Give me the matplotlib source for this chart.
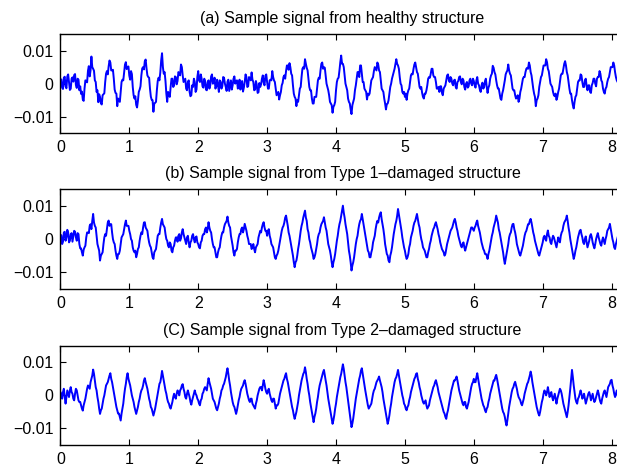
import numpy as np
import matplotlib
matplotlib.use("Agg")
import matplotlib.pyplot as plt

plt.rcParams["font.family"] = ["Liberation Sans", "DejaVu Sans"]

# samples every 0.025 s, plus the in-between readings
# (at +0.0125 s) that carry the fast ripple; units of 1e-3
dt = 0.025

healthy = [
    0.5, -1.2, 1.8, -0.8, 2.2, 0.3, -1.5, 1.9, 2.6, -0.4, 1.5, -2.0, -3.1, -4.8, -1.5, 0.8, 3.9, 2.2, 8.2, 4.5,
    1.0, -2.5, -5.6, -4.0, -6.3, -3.2, 0.5, 3.8, 5.2, 6.4, 4.0, 1.5, -2.8, -6.8, -5.0, -2.6, 1.2, 3.5, 6.5, 5.0,
    2.4, 3.8, -1.0, -4.5, -6.4, -5.2, -1.8, 2.5, 5.0, 6.8, 4.6, 2.0, -1.5, -4.9, -8.5, -5.8, -2.0, 1.8, 3.4, 9.2,
    3.0, 0.8, -5.5, -3.0, -1.0, 1.5, -0.5, 2.0, 0.8, 3.2, 5.8, 2.5, 1.0, -1.5, 0.5, -2.5, -3.5, -1.0, 0.5, -1.8,
    3.8, 0.5, 1.5, -1.2, 0.8, -2.0, 1.0, -0.5, 2.8, 0.2, -1.5, 1.2, -2.5, 0.5, -0.8, 1.8, -1.0, 0.6, -2.2, 1.0,
    -0.5, 2.2, 0.8, -1.5, 1.2, -0.6, -2.4, 0.5, 2.0, -0.8, 1.5, 3.4, 0.5, -1.8, -0.3, -2.6, -1.0, 1.5, 0.3, 2.4,
    0.5, -1.5, 1.2, 3.8, 1.0, -1.5, -3.0, -4.8, -2.5, 0.2, 2.5, 3.8, 5.5, 6.2, 3.0, -0.5, -4.0, -6.8, -5.5, -1.5,
    2.0, 5.0, 7.4, 4.8, 1.5, -2.0, -4.5, -6.0, -4.0, -1.5, 1.8, 4.0, 6.4, 5.0, 2.5, -1.0, -3.5, -6.0, -8.8, -6.5,
    -2.0, 1.5, 4.0, 8.5, 6.0, 2.5, -1.0, -4.5, -6.0, -9.2, -5.5, -2.0, 1.5, 3.5, 5.5, 3.0, 0.5, -2.0, -4.8, -3.5,
    -1.0, 1.5, 3.8, 4.5, 6.4, 4.0, 1.0, -2.0, -4.5, -7.8, -6.0, -3.0, 0.0, 2.5, 4.5, 7.4, 5.5, 2.0, -0.5, -3.0,
    -4.0, -4.9, -2.0, 0.5, 3.0, 4.5, 6.4, 3.5, 1.0, -1.5, -2.8, -4.5, -3.0, -0.5, 2.0, 3.0, 4.5, 2.0, 0.5, -1.5,
    -2.5, -0.8, -3.5, -1.0, 1.0, 2.8, 0.5, 1.5, -0.5, 1.2, -1.5, 0.8, 2.2, -0.2, 1.0, -1.8, 0.5, -0.8, 1.5, -0.5,
    0.8, -1.2, 2.0, -0.5, -2.5, 0.3, -1.0, 1.5, -2.8, -0.5, 2.5, 5.4, 3.5, 1.0, -1.5, -3.0, -4.9, -2.0, 1.0, 3.5,
    5.8, 3.0, 0.5, -2.0, -3.5, -4.2, -5.5, -2.5, 0.0, 2.0, 3.5, 4.8, 6.4, 3.5, 0.5, -3.0, -6.8, -4.5, -1.0, 2.0,
    4.0, 5.5, 7.4, 4.5, 2.0, -0.5, -2.5, -3.8, -4.9, -2.5, 0.5, 3.0, 4.5, 6.8, 3.5, 0.5, -3.0, -5.0, -7.5, -4.0,
    -1.5, 1.0, 2.8, 0.5, -1.0, 1.5, -2.0, -0.5, -2.8, 0.2, 1.5, -0.8, 2.0, 3.8, 1.0, -1.5, -3.0, -1.0, 1.5, 3.5,
    5.0, 6.4, 3.5, 1.0,
]
healthy_mid = [
    1.3, -1.6, 2.1, -1.4, 2.8, -1.9, 1.5, 0.6, 2.9, -1.3, 1.2, -0.8, -2.4, -5.2, 1.0, 0.4, 5.3, 4.0, 5.0, 3.9,
    0.5, -2.0, -3.2, -5.9, -3.5, -2.9, 3.0, 2.8, 7.0, 4.0, 4.2, -1.8, -3.0, -4.5, -5.5, 0.5, 1.0, 5.8, 4.4, 5.2,
    1.2, 2.9, -3.5, -3.8, -7.2, -2.5, -0.8, 4.6, 4.3, 7.3, 2.5, 1.8, -3.9, -5.0, -6.0, -5.5, 0.8, 1.0, 7.0, 5.0,
    3.5, -3.0, -2.5, -4.0, 1.5, -1.0, 2.2, -0.2, 3.5, 2.5, 5.0, 0.5, 1.5, -2.0, 1.0, -3.8, -0.5, 1.5, -2.5, 2.0,
    1.0, 2.8, -0.8, 1.5, -1.8, 0.5, -1.5, 2.2, 0.0, 1.8, -0.8, -0.5, 1.0, -1.5, 2.0, 0.0, -2.2, 1.2, -0.5, -1.8,
    1.5, 0.0, 1.0, -0.5, -1.8, 0.8, -1.2, 2.8, -1.0, 2.0, 1.0, 1.2, -2.0, 0.8, -2.8, 0.2, -0.2, 2.5, -0.5, 2.8,
    -1.5, 1.0, 1.0, 2.0, 0.5, -3.5, -2.5, -3.5, -0.5, 2.0, 1.5, 5.5, 4.2, 5.0, 2.5, -3.0, -4.5, -5.0, -3.5, -1.0,
    4.5, 4.5, 6.0, 4.0, -1.0, -2.0, -6.0, -4.0, -4.0, 1.0, 1.5, 6.0, 4.5, 4.8, 0.0, -2.0, -5.5, -6.5, -7.0, -5.5,
    0.5, 1.8, 6.5, 6.0, 5.0, 0.0, -2.0, -5.5, -7.8, -6.5, -4.5, -0.5, 3.5, 2.0, 5.5, 0.5, -1.5, -2.5, -3.0, -3.0,
    1.0, 2.0, 5.0, 4.0, 5.8, 3.5, -1.5, -2.5, -6.0, -6.2, -5.0, -1.0, 1.5, 3.5, 6.0, 6.0, 4.5, 0.0, -2.5, -2.5,
    -3.0, -3.0, -1.5, 2.5, 2.8, 5.8, 5.0, 3.0, -1.0, -1.0, -4.0, -3.0, -2.0, 1.5, 1.8, 4.5, 2.5, 2.0, -1.5, -1.0,
    -0.8, -2.8, -1.5, -0.5, 2.5, 1.0, 2.0, 0.0, 1.0, -1.0, 0.5, 2.0, 0.5, 1.5, -1.0, 0.0, -1.2, 1.0, 0.0, 1.5,
    -0.5, 1.0, 0.0, -1.8, -0.5, -1.5, 0.8, -1.0, -1.2, 1.5, 3.0, 4.8, 2.8, -0.5, -1.5, -4.5, -3.0, -0.5, 2.8, 4.0,
    4.0, 2.5, -1.5, -2.0, -4.5, -3.5, -4.5, -1.5, 1.5, 2.0, 4.5, 4.5, 5.5, 2.5, -1.5, -4.0, -5.0, -3.5, 0.5, 2.5,
    5.5, 5.5, 6.5, 3.8, 0.0, -1.0, -3.5, -3.0, -4.0, -1.5, 2.5, 3.0, 6.0, 5.5, 2.5, -1.5, -3.0, -6.5, -5.5, -3.5,
    0.5, 1.0, 2.5, -1.0, 1.0, -0.8, -0.5, -2.5, -0.5, 1.5, 0.0, 1.5, 2.0, 3.0, 0.5, -2.5, -1.5, 0.5, 2.0, 5.0,
    5.0, 5.5, 2.0, 0.5,
]

type1 = [
    0.8, -1.5, 2.0, -0.5, 2.8, -1.0, 1.5, -0.8, 2.5, 0.5, 1.8, -1.5, -2.8, -5.0, -2.5, 0.5, 2.0, 4.0, 3.0, 7.6,
    4.0, 1.0, -2.5, -6.5, -4.5, -1.5, 1.5, 3.0, 5.6, 4.5, 2.0, -1.0, -3.5, -6.0, -4.5, -1.5, 1.0, 3.0, 5.6, 4.0,
    2.5, 0.0, -2.5, -4.0, -5.5, -3.0, -0.5, 2.0, 3.5, 5.1, 3.0, 0.5, -2.0, -4.0, -6.0, -3.5, -1.0, 1.5, 3.5, 6.1,
    4.0, 1.5, -0.5, -2.5, -1.5, -4.0, -2.0, 0.5, -0.8, 1.5, 0.2, 3.0, 0.5, -1.5, 1.0, -2.5, -0.5, 1.5, -1.0, 0.8,
    -1.5, -2.8, -0.5, 1.5, 3.0, 2.0, 5.1, 2.5, 0.0, -2.5, -4.0, -5.5, -3.0, -0.5, 2.0, 3.5, 5.0, 6.8, 4.0, 1.0,
    -2.0, -5.0, -3.5, -1.0, 1.5, 3.0, 2.0, 4.6, 2.5, 0.0, -1.5, -3.0, -1.5, -4.0, -2.0, 0.5, 2.5, 3.5, 5.1, 2.5,
    1.0, 3.0, 0.0, -2.0, -4.0, -6.0, -4.5, -2.0, 1.0, 3.5, 5.0, 7.1, 4.0, 1.0, -2.0, -5.0, -8.5, -6.5, -3.0, 0.5,
    4.0, 6.5, 8.6, 5.5, 2.0, -1.0, -3.5, -6.0, -4.5, -1.5, 1.5, 3.5, 5.0, 6.6, 3.5, 0.5, -2.5, -5.0, -8.5, -6.0,
    -2.5, 1.0, 4.5, 7.0, 10.1, 6.5, 3.0, -1.0, -5.0, -9.5, -7.0, -3.5, 0.0, 3.0, 5.5, 7.6, 4.5, 1.0, -2.0, -4.0,
    -5.5, -3.0, 0.0, 3.0, 5.5, 6.5, 8.1, 4.5, 1.0, -3.0, -5.0, -7.0, -4.0, -0.5, 3.0, 5.5, 9.1, 6.0, 2.5, -1.0,
    -3.5, -6.0, -4.5, -1.5, 1.5, 4.0, 5.5, 7.6, 4.5, 1.5, -1.0, -3.0, -4.5, -5.5, -3.0, -0.5, 2.0, 3.5, 5.1, 3.0,
    0.5, -2.0, -3.5, -5.0, -3.0, -0.5, 1.5, 3.0, 4.5, 6.1, 3.5, 1.0, -1.0, -2.5, -1.0, -3.5, -1.5, 0.5, 2.5, 3.5,
    2.5, 4.0, 5.6, 3.0, 0.5, -2.0, -3.5, -4.5, -6.0, -3.5, -0.5, 2.0, 4.5, 7.1, 5.0, 2.0, -1.0, -4.0, -7.5, -4.5,
    -1.5, 1.5, 3.5, 4.6, 2.0, -1.5, -3.5, -5.0, -3.0, -0.5, 2.0, 3.5, 4.5, 6.1, 3.5, 1.0, -1.5, -3.5, -5.0, -3.0,
    -1.0, 1.0, -0.5, 2.6, 0.5, -1.5, 1.0, -0.5, -2.5, 0.5, -1.0, 2.0, 4.0, 5.5, 7.1, 3.5, 0.0, -3.0, -6.0, -3.5,
    -1.0, 1.5, 2.8, 0.5, -1.5, 0.8, -2.5, -0.5, 1.5, -1.0, -2.8, 0.0, 1.8, -0.5, -2.0, 0.5, -1.5, 1.0, 3.0, 4.6,
    1.5, -1.0, -3.0, -0.5,
]
type1_mid = [
    1.2, -0.8, 2.2, 0.5, 2.0, -0.5, 1.8, 0.8, 2.2, -0.5, 1.5, -2.8, -4.0, -3.2, -2.0, 2.0, 1.8, 4.5, 5.5, 5.0,
    3.5, -1.5, -3.5, -5.0, -4.0, 0.5, 1.0, 5.0, 4.0, 4.5, 0.0, -1.5, -5.0, -4.5, -3.5, 0.5, 1.5, 4.5, 4.0, 4.0,
    1.5, -0.5, -3.5, -3.5, -4.5, -2.5, 1.0, 1.5, 5.0, 3.5, 2.5, -1.0, -2.5, -5.5, -4.0, -3.0, 1.0, 1.5, 5.0, 4.5,
    3.5, 0.0, -2.0, -1.0, -3.5, -2.5, -0.5, 0.5, 1.0, -0.5, 2.0, 1.5, -0.5, 0.5, -1.0, -1.0, 1.0, 0.0, 0.5, -1.0,
    -2.5, -1.0, 1.0, 1.5, 3.5, 3.0, 3.5, 2.0, -1.5, -2.5, -5.5, -4.0, -2.5, 1.0, 2.0, 4.5, 5.5, 5.0, 3.5, -0.5,
    -4.0, -3.5, -3.0, 0.5, 1.5, 3.5, 3.0, 3.5, 1.0, -1.5, -1.5, -2.5, -3.0, -2.5, -1.5, 1.5, 2.0, 4.5, 3.5, 2.5,
    2.5, 1.0, -1.5, -2.5, -5.5, -5.0, -3.5, -0.5, 2.5, 4.0, 6.5, 5.5, 2.0, -0.5, -3.5, -7.0, -7.0, -5.0, -1.5, 2.5,
    5.0, 7.5, 6.5, 3.0, 0.0, -2.5, -4.5, -5.5, -3.0, 0.5, 2.0, 4.5, 5.5, 5.0, 2.5, -1.5, -3.5, -7.0, -7.0, -4.5,
    -0.5, 3.0, 5.5, 8.5, 8.0, 4.5, 1.5, -3.5, -7.0, -8.0, -5.5, -1.5, 1.0, 4.5, 6.0, 6.0, 3.0, -0.5, -3.5, -5.5,
    -4.0, -1.0, 1.0, 4.5, 5.0, 7.5, 6.0, 3.0, -1.5, -4.5, -6.5, -5.0, -2.5, 1.5, 4.5, 7.0, 7.5, 4.5, 0.5, -2.5,
    -5.0, -5.5, -2.5, 0.5, 2.5, 5.0, 6.5, 6.0, 3.5, 0.0, -2.5, -3.5, -5.5, -4.0, -1.5, 1.0, 3.0, 4.5, 4.0, 1.5,
    -1.0, -3.0, -4.0, -4.5, -1.5, 0.5, 2.5, 3.5, 5.5, 5.0, 2.5, 0.0, -2.0, -1.5, -2.5, -2.5, -0.5, 1.5, 3.5, 3.0,
    3.5, 5.0, 4.0, 2.0, -1.0, -3.0, -4.5, -5.0, -4.5, -2.0, 1.0, 3.5, 5.5, 6.0, 3.0, 0.5, -2.5, -6.0, -6.0, -3.0,
    0.5, 2.0, 4.5, 3.0, 0.5, -2.5, -4.5, -4.0, -2.0, 1.0, 2.5, 4.5, 5.5, 5.0, 2.0, -0.5, -2.5, -4.5, -4.0, -2.0,
    0.5, 0.0, 1.5, 1.0, -1.0, 0.0, 0.5, -1.5, -1.0, -0.5, 1.0, 2.5, 5.0, 6.0, 5.5, 2.0, -1.5, -4.5, -5.0, -2.5,
    0.5, 2.5, 1.5, -1.0, 0.0, -1.0, -1.5, 1.0, 0.5, -2.0, -1.5, 1.0, 0.5, -1.5, -0.5, -0.5, 0.0, 2.5, 3.5, 3.0,
    0.0, -2.5, -1.5, 0.5,
]

type2 = [
    1.0, -1.0, 2.0, -2.5, 1.5, -0.5, 2.5, 0.5, -1.5, 2.0, 0.0, -2.0, -3.0, -4.6, -2.0, 0.5, 3.0, 2.0, 5.0, 7.8,
    4.5, 1.5, -2.0, -5.6, -4.0, -1.0, 1.5, 3.5, 5.0, 6.7, 4.0, 1.0, -2.0, -4.5, -5.5, -7.6, -4.0, 0.0, 3.5, 6.7,
    4.0, 1.5, -1.0, -3.5, -5.6, -3.5, -1.0, 1.5, 3.0, 5.2, 3.0, 0.5, -2.0, -4.0, -6.1, -4.0, -1.0, 2.0, 4.0, 7.4,
    4.5, 1.5, -1.0, -2.5, -4.0, -2.0, 0.5, -1.0, 1.5, 0.0, 2.0, 3.4, 1.0, -1.0, 1.5, -0.5, -2.8, -0.5, 1.5, 0.0,
    -1.5, -3.0, -1.0, 1.0, 2.5, 1.5, 5.2, 3.0, 0.5, -1.5, -3.0, -4.5, -2.5, 0.0, 2.0, 3.5, 5.5, 8.2, 4.5, 1.0,
    -2.0, -3.5, -5.6, -3.0, -0.5, 2.0, 3.0, 4.6, 2.0, -0.5, -2.0, -1.0, -3.0, -4.0, -1.5, 1.0, 2.5, 1.5, 4.6, 2.0,
    0.5, 2.0, -0.5, -2.0, -1.0, -4.0, -3.0, -1.0, 1.5, 3.5, 5.0, 6.7, 4.0, 1.0, -2.0, -4.5, -7.1, -5.0, -2.0, 1.5,
    4.5, 6.5, 8.5, 5.0, 1.5, -2.0, -5.0, -8.1, -5.5, -2.0, 1.5, 4.0, 6.0, 7.7, 4.5, 1.0, -2.5, -5.5, -8.6, -6.0,
    -2.5, 1.0, 4.0, 6.5, 9.4, 6.0, 2.5, -1.5, -5.5, -9.6, -7.0, -3.0, 0.5, 3.5, 6.0, 8.2, 5.0, 1.5, -1.5, -4.0,
    -3.0, -1.0, 1.5, 3.0, 4.5, 5.7, 3.5, 1.0, -2.5, -5.5, -8.6, -6.0, -2.5, 1.0, 4.0, 5.5, 7.7, 4.5, 1.5, -1.0,
    -3.0, -4.5, -3.0, -0.5, 2.0, 4.0, 5.5, 6.7, 4.0, 1.5, -1.0, -2.5, -1.5, -4.0, -3.0, -0.5, 1.5, 3.0, 4.6, 2.5,
    0.0, -2.0, -4.0, -5.5, -7.1, -4.5, -1.5, 1.5, 3.5, 4.5, 5.7, 3.0, 0.5, -1.5, -3.0, -2.0, -4.0, -2.0, 1.0, 3.5,
    5.0, 4.0, 6.7, 3.5, 0.5, -2.0, -3.5, -5.1, -3.5, -1.0, 1.5, 3.5, 4.5, 6.2, 3.5, 0.5, -2.5, -5.0, -6.5, -9.1,
    -5.5, -2.0, 1.0, 2.5, 4.1, 2.0, -0.5, -1.5, -3.0, -1.0, 1.5, 3.5, 5.0, 7.2, 4.0, 1.0, -2.0, -4.5, -6.1, -3.5,
    -1.0, 1.5, 0.0, 2.5, -0.5, 1.0, -1.5, 0.5, -2.5, 0.0, 2.0, 0.5, -2.5, -4.5, -6.6, -3.0, 2.0, 7.7, 3.0, -1.0,
    -2.5, -0.5, 1.5, -1.0, 0.5, -2.5, -0.5, 1.0, -1.5, 0.5, -2.0, -0.5, 1.5, -1.0, -2.5, 0.0, 1.5, -0.5, 2.5, 3.5,
    4.7, 2.0, -0.5, 1.5,
]
type2_mid = [
    0.5, 1.0, -0.5, -0.5, 0.5, 1.5, 1.0, -1.0, 0.5, 1.5, -1.5, -2.0, -4.0, -3.0, -1.0, 2.0, 2.5, 4.0, 6.0, 6.5,
    2.5, -0.5, -4.0, -4.5, -2.5, 0.0, 3.0, 4.0, 6.0, 5.0, 2.5, -0.5, -3.5, -5.5, -6.5, -5.5, -2.5, 2.0, 5.5, 5.0,
    3.0, 0.0, -2.0, -4.5, -4.5, -2.0, 0.5, 2.0, 4.5, 4.0, 2.0, -1.0, -3.5, -5.0, -5.0, -2.5, 0.5, 3.5, 5.5, 6.0,
    3.0, 0.5, -2.0, -3.5, -3.0, -0.5, -0.5, 0.5, 1.0, 1.5, 3.0, 2.0, -0.5, 0.5, 0.5, -2.0, -1.5, 0.5, 0.5, -1.0,
    -2.5, -1.5, 0.5, 2.0, 2.0, 3.5, 4.0, 2.0, -1.0, -2.0, -4.0, -3.5, -1.0, 1.5, 3.0, 4.5, 7.0, 6.5, 3.0, -0.5,
    -3.0, -4.5, -4.5, -1.5, 1.0, 2.5, 4.0, 3.5, 0.5, -1.5, -1.0, -2.5, -3.5, -2.5, 0.0, 2.0, 2.5, 3.0, 3.5, 1.0,
    1.5, 0.5, -1.5, -1.0, -2.5, -3.0, -2.5, 0.5, 2.5, 4.5, 6.0, 5.0, 2.5, -0.5, -3.5, -6.0, -6.0, -3.5, 0.0, 3.0,
    5.5, 7.0, 7.0, 3.5, 0.0, -3.5, -6.5, -6.5, -4.0, -0.5, 3.0, 5.0, 7.0, 6.0, 3.0, -1.0, -4.0, -7.0, -7.5, -4.0,
    -0.5, 2.5, 5.5, 8.0, 8.0, 4.0, 0.5, -3.5, -7.5, -8.5, -5.0, -1.0, 2.0, 5.0, 7.5, 6.5, 3.0, 0.0, -3.0, -3.5,
    -2.5, 0.5, 2.0, 4.0, 5.0, 4.5, 2.5, -1.0, -4.0, -7.0, -7.5, -4.0, -0.5, 2.5, 5.0, 6.5, 6.0, 3.0, 0.0, -2.5,
    -4.0, -3.5, -1.5, 1.0, 3.0, 5.0, 6.5, 5.0, 2.5, 0.0, -2.0, -2.0, -3.0, -3.5, -1.5, 0.5, 2.5, 4.0, 3.5, 1.0,
    -1.0, -3.0, -5.0, -6.5, -5.5, -3.0, 0.0, 2.5, 4.5, 5.0, 4.5, 1.5, -0.5, -2.5, -2.0, -3.5, -3.0, -0.5, 2.5, 4.0,
    4.0, 5.5, 5.0, 2.0, -1.0, -3.0, -4.5, -4.0, -2.0, 0.5, 2.5, 4.5, 5.5, 5.0, 2.0, -1.0, -4.0, -5.5, -8.0, -7.5,
    -3.5, -0.5, 2.0, 3.5, 3.0, 0.5, -1.0, -2.5, -2.0, 0.5, 2.5, 4.0, 6.0, 6.0, 2.5, -0.5, -3.5, -5.5, -5.0, -2.0,
    0.5, 1.0, 1.0, 1.0, 0.5, -0.5, -0.5, -1.0, -1.0, 1.0, 1.5, -1.0, -3.5, -5.5, -5.0, -0.5, 5.0, 5.5, 1.0, -2.0,
    -1.0, 0.5, 0.5, -0.5, -1.0, -1.5, 0.5, 0.0, -0.5, -1.0, -1.5, 0.5, 0.5, -2.0, -1.0, 1.0, 0.5, 1.0, 3.0, 4.5,
    3.0, 0.5, 0.5, 0.0,
]

titles = [
    "(a) Sample signal from healthy structure",
    "(b) Sample signal from Type 1\u2013damaged structure",
    "(C) Sample signal from Type 2\u2013damaged structure",
]
xticks = [0, 1, 2, 3, 4, 5, 6, 7, 8]
yticks = [-0.01, 0, 0.01]
ytick_labels = ["\u22120.01", "0", "0.01"]

signals = [(healthy, healthy_mid), (type1, type1_mid), (type2, type2_mid)]

fig = plt.figure(figsize=(6.17, 4.67), dpi=100)

# axes positions in figure fractions; right edge runs past the canvas like the cropped original
bottoms = [0.7146, 0.3818, 0.0471]
for (s, m), title, b in zip(signals, titles, bottoms):
    ax = fig.add_axes([0.0979, b, 0.9148, 0.2125])
    # put the in-between readings between the main samples
    y = np.empty(2 * len(s))
    y[0::2] = s
    y[1::2] = m
    y = y * 1e-3
    t = np.arange(len(y)) * dt / 2
    ax.plot(t, y, color=(0, 0, 1), lw=1.4)
    ax.set_xlim(0, 8.192)
    ax.set_ylim(-0.015, 0.015)
    ax.set_xticks(xticks)
    ax.set_yticks(yticks)
    ax.set_yticklabels(ytick_labels)
    ax.tick_params(direction="in", length=4, width=0.8, labelsize=11.5,
                   top=True, right=False, pad=5, colors="black")
    ax.tick_params(axis="x", pad=5)
    for sp in ax.spines.values():
        sp.set_linewidth(1.0)
    ax.set_title(title, fontsize=11.5, pad=8)

plt.savefig("out.png", dpi=100)
